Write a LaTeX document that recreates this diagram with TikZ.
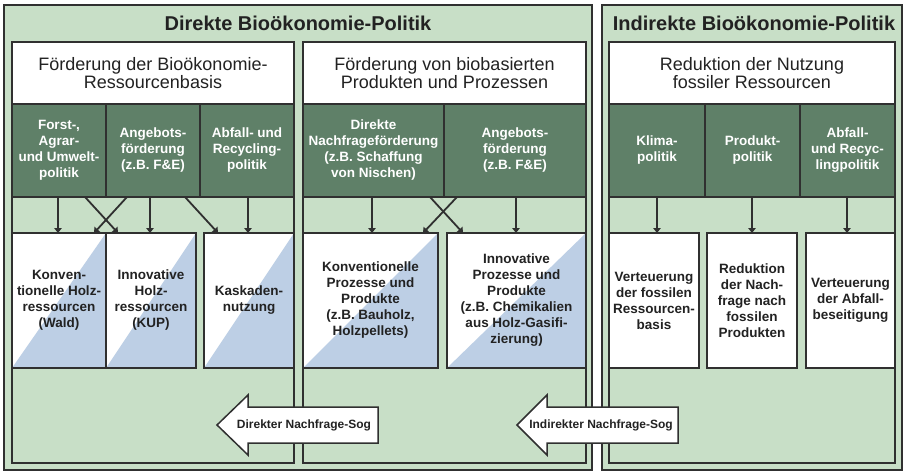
\documentclass[tikz,border=0pt]{standalone}
\usepackage{fontspec}
\setmainfont{Liberation Sans}
\usetikzlibrary{arrows.meta,calc}
\definecolor{lg}{HTML}{C8DFC7}
\definecolor{dg}{HTML}{5F8068}
\definecolor{bl}{HTML}{BDCFE5}
\definecolor{ln}{HTML}{303030}
\definecolor{tx}{HTML}{222222}
\begin{document}
\begin{tikzpicture}[x=1pt,y=-1pt,
  outerbox/.style={draw=ln, line width=1.5pt, fill=lg, anchor=north west, inner sep=0pt, outer sep=0pt},
  colbox/.style={draw=ln, line width=1.5pt, anchor=north west, inner sep=0pt, outer sep=0pt},
  titletext/.style={text=tx, font=\bfseries\fontsize{20}{22}\selectfont},
  hdr/.style={draw=ln, line width=1.5pt, fill=white, anchor=north west, inner sep=0pt, outer sep=0pt,
    text=tx, align=center, font=\fontsize{18}{18.5}\selectfont, minimum height=62pt},
  pol/.style={draw=ln, line width=1.5pt, fill=dg, anchor=north west, inner sep=0pt, outer sep=0pt,
    text=white, align=center, font=\bfseries\fontsize{13.5}{16}\selectfont, minimum height=93pt},
  res/.style={draw=ln, line width=1.5pt, fill=white, anchor=north west, inner sep=0pt, outer sep=0pt,
    text=tx, align=center, font=\bfseries\fontsize{13.5}{16}\selectfont, minimum height=135pt,
    path picture={\fill[bl] (path picture bounding box.south west) -- (path picture bounding box.north east)
      -- (path picture bounding box.south east) -- cycle;}},
  eff/.style={draw=ln, line width=1.5pt, fill=white, anchor=north west, inner sep=0pt, outer sep=0pt,
    text=tx, align=center, font=\bfseries\fontsize{13.5}{16}\selectfont, minimum height=135pt},
  arr/.style={draw=ln, line width=1.8pt, -{Triangle[length=5pt,width=7.5pt]}},
  bigarr/.style={draw=ln, line width=1.5pt, fill=white, line join=miter},
  sogtext/.style={text=tx, font=\bfseries\fontsize{12}{14}\selectfont}
]
\useasboundingbox (0,0) rectangle (906,471);
\fill[white] (0,0) rectangle (906,471);

% outer boxes
\node[outerbox, minimum width=588pt, minimum height=465pt] (outL) at (4,5) {};
\node[outerbox, minimum width=300pt, minimum height=465pt] (outR) at (602,5) {};
\node[titletext] (tL) at (298,23) {Direkte Bioökonomie-Politik};
\node[titletext] (tR) at (754,23) {Indirekte Bioökonomie-Politik};

% column boxes
\node[colbox, minimum width=282pt, minimum height=421pt] (colL) at (12,42) {};
\node[colbox, minimum width=283pt, minimum height=421pt] (colM) at (303,42) {};
\node[colbox, minimum width=286pt, minimum height=421pt] (colR) at (609,42) {};

% headers
\node[hdr, minimum width=282pt] (hL) at (12,42) {Förderung der Bioökonomie-\\Ressourcenbasis};
\node[hdr, minimum width=283pt] (hM) at (303,42) {Förderung von biobasierten\\Produkten und Prozessen};
\node[hdr, minimum width=286pt] (hR) at (609,42) {Reduktion der Nutzung\\fossiler Ressourcen};

% policy cells
\node[pol, minimum width=94pt] (d1) at (12,104) {Forst-,\\Agrar-\\und Umwelt-\\politik};
\node[pol, minimum width=94pt] (d2) at (106,104) {Angebots-\\förderung\\(z.B. F\&E)};
\node[pol, minimum width=94pt] (d3) at (200,104) {Abfall- und\\Recycling-\\politik};
\node[pol, minimum width=141pt] (d4) at (303,104) {Direkte\\Nachfrageförderung\\(z.B. Schaffung\\von Nischen)};
\node[pol, minimum width=142pt] (d5) at (444,104) {Angebots-\\förderung\\(z.B. F\&E)};
\node[pol, minimum width=96pt] (d6) at (609,104) {Klima-\\politik};
\node[pol, minimum width=95pt] (d7) at (705,104) {Produkt-\\politik};
\node[pol, minimum width=95pt] (d8) at (800,104) {Abfall-\\und Recyc-\\lingpolitik};

% result boxes
\node[res, minimum width=94pt] (b1) at (12,233) {Konven-\\tionelle Holz-\\ressourcen\\(Wald)};
\node[res, minimum width=90pt] (b2) at (106,233) {Innovative\\Holz-\\ressourcen\\(KUP)};
\node[res, minimum width=90pt] (b3) at (204,233) {Kaskaden-\\nutzung};
\node[res, minimum width=135pt] (b4) at (303,233) {Konventionelle\\Prozesse und\\Produkte\\(z.B. Bauholz,\\Holzpellets)};
\node[res, minimum width=139pt] (b5) at (447,233) {Innovative\\Prozesse und\\Produkte\\(z.B. Chemikalien\\aus Holz-Gasifi-\\zierung)};
\node[eff, minimum width=90pt] (b6) at (609,233) {Verteuerung\\der fossilen\\Ressourcen-\\basis};
\node[eff, minimum width=90pt] (b7) at (707,233) {Reduktion\\der Nach-\\frage nach\\fossilen\\Produkten};
\node[eff, minimum width=89pt] (b8) at (806,233) {Verteuerung\\der Abfall-\\beseitigung};

% small arrows
\draw[arr] ($(d1.south west)+(46,0)$) -- ($(b1.north west)+(46,0)$);
\draw[arr] ($(d1.south west)+(73,0)$) -- ($(b2.north west)+(12,0)$);
\draw[arr] ($(d2.south west)+(21,0)$) -- ($(b1.north west)+(82,0)$);
\draw[arr] ($(d2.south west)+(44,0)$) -- ($(b2.north west)+(44,0)$);
\draw[arr] ($(d2.south west)+(79,0)$) -- ($(b3.north west)+(14,0)$);
\draw[arr] ($(d3.south west)+(48,0)$) -- ($(b3.north west)+(44,0)$);
\draw[arr] ($(d4.south west)+(69,0)$) -- ($(b4.north west)+(69,0)$);
\draw[arr] ($(d4.south west)+(127,0)$) -- ($(b5.north west)+(16,0)$);
\draw[arr] ($(d5.south west)+(13,0)$) -- ($(b4.north west)+(120,0)$);
\draw[arr] ($(d5.south west)+(72,0)$) -- ($(b5.north west)+(69,0)$);
\draw[arr] ($(d6.south west)+(48,0)$) -- ($(b6.north west)+(48,0)$);
\draw[arr] ($(d7.south west)+(47,0)$) -- ($(b7.north west)+(45,0)$);
\draw[arr] ($(d8.south west)+(47,0)$) -- ($(b8.north west)+(41,0)$);

% big arrows
\draw[bigarr] (217,425) -- (248,395) -- (248,407) -- (378,407) -- (378,443) -- (248,443) -- (248,455) -- cycle;
\node[sogtext] (sogD) at (304,425) {Direkter Nachfrage-Sog};
\draw[bigarr] (517,425) -- (547,395) -- (547,407) -- (678,407) -- (678,443) -- (547,443) -- (547,455) -- cycle;
\node[sogtext] (sogI) at (601,425) {Indirekter Nachfrage-Sog};
\end{tikzpicture}
\end{document}
